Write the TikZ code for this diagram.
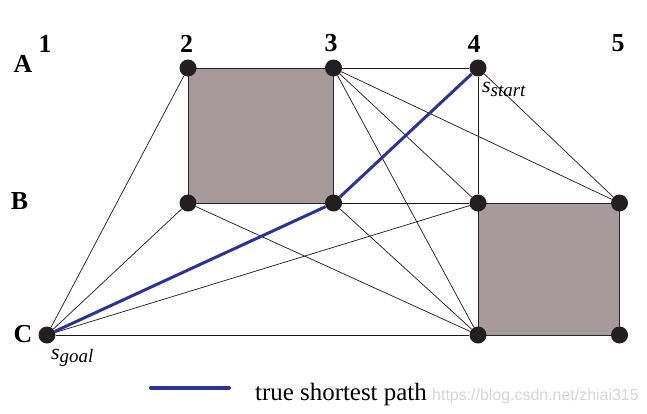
\documentclass[tikz,border=0pt]{standalone}
\usepackage{fontspec}
\setmainfont{Liberation Serif}
\newfontfamily\wmfont{Liberation Sans}
\usetikzlibrary{backgrounds}
\definecolor{pathblue}{RGB}{44,50,150}
\definecolor{obstgray}{RGB}{166,154,154}
\definecolor{dotblack}{RGB}{35,31,32}
\definecolor{wmgray}{RGB}{212,212,212}

\begin{document}
\begin{tikzpicture}[x=1bp,y=1bp,
  vertex/.style={circle,fill=dotblack,inner sep=0pt,minimum size=17bp},
  edge/.style={draw=black!90,line width=0.7bp},
  obstacle/.style={fill=obstgray,draw=black!85,line width=0.9bp},
  truepath/.style={draw=pathblue,line width=3bp},
  colname/.style={font=\fontsize{26}{26}\selectfont\bfseries,inner sep=0pt},
  rowname/.style={font=\fontsize{26}{26}\selectfont\bfseries,inner sep=0pt}]
\useasboundingbox (0,0) rectangle (647,413);
%\draw[step=50] (0,0) grid (647,413);

% vertices
\node[vertex] (A2) at (188,345) {};
\node[vertex] (A3) at (333.5,345) {};
\node[vertex] (A4) at (478,345) {};
\node[vertex] (B2) at (188,210) {};
\node[vertex] (B3) at (333.5,210) {};
\node[vertex] (B4) at (478,210) {};
\node[vertex] (B5) at (619.5,210) {};
\node[vertex] (C1) at (47,78) {};
\node[vertex] (C4) at (478,78) {};
\node[vertex] (C5) at (619.5,78) {};

% obstacles
\begin{scope}[on background layer]
\draw[obstacle] (A2.center) -- (A3.center) -- (B3.center) -- (B2.center) -- cycle;
\draw[obstacle] (B4.center) -- (B5.center) -- (C5.center) -- (C4.center) -- cycle;
\end{scope}

% visibility graph
\draw[edge] (A3) -- (A4);
\draw[edge] (A4) -- (B4);
\draw[edge] (A4) -- (B5);
\draw[edge] (A3) -- (B4);
\draw[edge] (A3) -- (B5);
\draw[edge] (A3) -- (C4);
\draw[edge] (B3) -- (B4);
\draw[edge] (B3) -- (C4);
\draw[edge] (B2) -- (C4);
\draw[edge] (A2) -- (C1);
\draw[edge] (B2) -- (C1);
\draw[edge] (C1) -- (B4);
\draw[edge] (C1) -- (C4);

\draw[truepath] (A4) -- (B3);
\draw[truepath] (B3) -- (C1);

% row and column names
\node[colname] (col1) at (45,369.5) {1};
\node[colname] (col2) at (186.5,369.5) {2};
\node[colname] (col3) at (331,369.5) {3};
\node[colname] (col4) at (474,369.5) {4};
\node[colname] (col5) at (618,369.5) {5};
\node[rowname] (rowA) at (23,349.5) {A};
\node[rowname] (rowB) at (19.5,212) {B};
\node[rowname] (rowC) at (23,79) {C};

\node[anchor=base west,inner sep=0pt] (sstart) at (482,321)
  {\fontsize{22}{22}\selectfont\itshape s\raisebox{-4bp}{\fontsize{19}{19}\selectfont start}};
\node[anchor=base west,inner sep=0pt] (sgoal) at (51,54)
  {\fontsize{22}{22}\selectfont\itshape s\raisebox{-3bp}{\fontsize{19}{19}\selectfont goal}};

% legend
\coordinate (legL) at (151,25.5);
\coordinate (legR) at (229,25.5);
\draw[truepath,line width=4bp,line cap=round] (legL) -- (legR);
\node[anchor=base west,inner sep=0pt,font=\fontsize{25}{25}\selectfont] (legtext) at (255,13) {true shortest path};
\node[anchor=base west,inner sep=0pt,font=\wmfont\fontsize{16}{16}\selectfont,text=wmgray] (wmark) at (432,13) {https://blog.csdn.net/zhiai315};
\end{tikzpicture}
\end{document}
